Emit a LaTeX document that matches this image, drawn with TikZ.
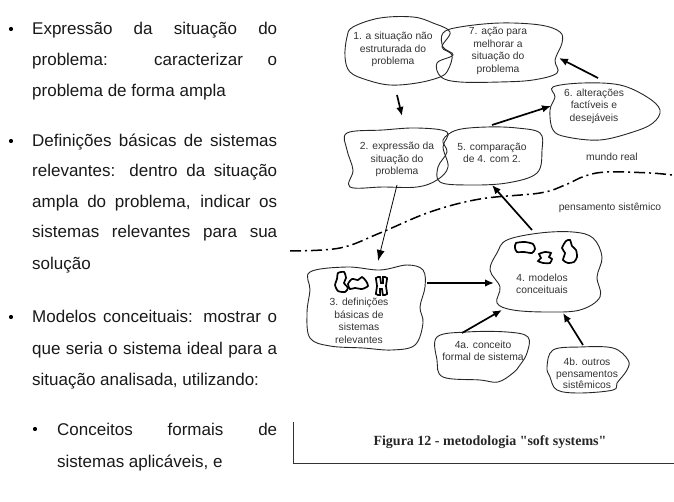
\documentclass[tikz,border=0pt]{standalone}
\usepackage{fontspec}
\setmainfont{Liberation Sans}
\newfontfamily\capfont{Liberation Serif}
\usetikzlibrary{arrows.meta}
\begin{document}
\begin{tikzpicture}[x=1pt,y=-1pt,
  body/.style={anchor=base west, inner sep=0pt, font=\fontsize{17}{20}\selectfont, text=black!90},
  bul/.style={circle, fill=black, inner sep=0pt, minimum size=4.2pt},
  cloud/.style={line width=0.9pt, black!85},
  icon/.style={line width=1.7pt, black},
  ctext/.style={align=center, inner sep=0pt, font=\fontsize{10.3}{12.5}\selectfont, text=black!80},
  arr/.style={line width=1.7pt, -{Latex[length=9pt,width=7.5pt]}},
  thinarr/.style={line width=0.8pt, -{Latex[length=11pt,width=8pt]}},
  boundary/.style={line width=1.5pt, dash pattern=on 11pt off 4pt on 2pt off 4pt},
]
\useasboundingbox (0,0) rectangle (674,502);

% ---------- left text ----------
\node[bul] (b1) at (11,29) {};
\node[body] (l1) at (32,35) {\makebox[245pt][s]{Expressão da situação do}};
\node[body] (l2) at (32,66) {\makebox[245pt][s]{problema: caracterizar o}};
\node[body] (l3) at (32,97) {problema de forma ampla};
\node[bul] (b2) at (11,141) {};
\node[body] (l4) at (32,147) {\makebox[245pt][s]{Definições básicas de sistemas}};
\node[body] (l5) at (32,177) {\makebox[245pt][s]{relevantes: dentro da situação}};
\node[body] (l6) at (32,208) {\makebox[245pt][s]{ampla do problema, indicar os}};
\node[body] (l7) at (32,238) {\makebox[245pt][s]{sistemas relevantes para sua}};
\node[body] (l8) at (32,270) {solução};
\node[bul] (b3) at (11,317) {};
\node[body] (l9) at (32,323) {\makebox[245pt][s]{Modelos conceituais: mostrar o}};
\node[body] (l10) at (32,354) {\makebox[245pt][s]{que seria o sistema ideal para a}};
\node[body] (l11) at (32,385) {situação analisada, utilizando:};
\node[bul] (b4) at (35,429) {};
\node[body] (l12) at (57,435) {\makebox[220pt][s]{Conceitos formais de}};
\node[body] (l13) at (57,467) {sistemas aplicáveis, e};

% ---------- clouds ----------
% 1
\draw[cloud] plot[smooth cycle, tension=0.6] coordinates {(353,27) (380,18) (413,17) (433,23) (450,32) (442,47) (452,55) (448,70) (440,77) (417,83) (390,85) (367,80) (350,72) (345,57) (347,37)};
% 7
\draw[cloud] plot[smooth cycle, tension=0.6] coordinates {(443,33) (460,27) (500,23) (540,25) (560,32) (562,43) (555,60) (557,73) (533,80) (500,82) (460,82) (441,77) (437,63) (453,55) (443,47)};
% 6
\draw[cloud] plot[smooth cycle, tension=0.6] coordinates {(553,87) (583,83) (620,85) (647,97) (660,110) (653,123) (633,132) (600,140) (567,137) (553,130) (550,110) (555,97)};
% 2
\draw[cloud] plot[smooth cycle, tension=0.6] coordinates {(347,133) (383,130) (417,128) (447,132) (443,147) (448,167) (437,180) (417,187) (383,187) (350,187) (353,170) (347,150)};
% 5
\draw[cloud] plot[smooth cycle, tension=0.6] coordinates {(457,130) (487,127) (517,128) (540,133) (542,150) (537,173) (507,183) (467,185) (440,182) (438,167) (447,152) (443,140)};
% 3
\draw[cloud] plot[smooth cycle, tension=0.6] coordinates {(310,272) (347,267) (380,270) (407,265) (423,270) (425,287) (420,307) (423,323) (415,345) (392,350) (363,348) (330,346) (310,338) (307,313) (310,290)};
% 4
\draw[cloud] plot[smooth cycle, tension=0.6] coordinates {(507,240) (540,233) (573,232) (593,238) (602,257) (597,277) (600,297) (580,310) (547,312) (513,310) (497,303) (500,287) (490,270) (497,253)};
% 4a
\draw[cloud] plot[smooth cycle, tension=0.6] coordinates {(437,337) (467,332) (507,332) (528,337) (527,353) (520,365) (513,373) (498,382) (480,380) (443,377) (437,360)};
% 4b
\draw[cloud] plot[smooth cycle, tension=0.6] coordinates {(553,350) (580,347) (613,348) (628,360) (627,370) (617,383) (613,390) (580,393) (557,390) (550,377) (547,367)};

% icons in cloud 3
\draw[icon] plot[smooth cycle, tension=0.4] coordinates {(338,273) (344,272) (346,278) (344,283) (348,288) (345,292) (338,291) (335,285) (337,279)};
\draw[icon] plot[smooth cycle, tension=0.4] coordinates {(348,284) (352,279) (358,280) (362,277) (366,281) (368,286) (362,289) (355,288) (350,289)};
\draw[icon] plot[smooth cycle, tension=0.3] coordinates {(376,278) (380,277) (381,283) (383,283) (383,277) (387,278) (386,286) (387,294) (383,295) (382,289) (380,289) (380,295) (376,294) (377,286)};
% icons in cloud 4
\draw[icon] plot[smooth cycle, tension=0.4] coordinates {(516,243) (525,242) (533,244) (535,249) (532,253) (524,252) (517,252) (515,248)};
\draw[icon] plot[smooth cycle, tension=0.3] coordinates {(539,254) (545,252) (551,253) (549,257) (552,259) (550,263) (543,263) (538,261) (541,258)};
\draw[icon] plot[smooth cycle, tension=0.4] coordinates {(566,241) (570,240) (572,246) (576,250) (577,257) (574,262) (568,263) (563,260) (565,253) (562,248)};

% cloud texts
\node[ctext] (c1) at (393,49.5) {1. a situação não\\estruturada do\\problema};
\node[ctext] (c7) at (498,51) {7. ação para\\melhorar a\\situação do\\problema};
\node[ctext] (c6) at (594,106) {6. alterações\\factíveis e\\desejáveis};
\node[ctext] (c2) at (397,159.5) {2. expressão da\\situação do\\problema};
\node[ctext] (c5) at (492,153) {5. comparação\\de 4. com 2.};
\node[ctext] (c3) at (359,321) {3. definições\\básicas de\\sistemas\\relevantes};
\node[ctext] (c4) at (542,284) {4. modelos\\conceituais};
\node[ctext] (c4a) at (483,351) {4a. conceito\\formal de sistema};
\node[ctext, font=\fontsize{10.3}{11.6}\selectfont] (c4b) at (587,373.5) {4b. outros\\pensamentos\\sistêmicos};
\node[ctext] (mr) at (612,157) {mundo real};
\node[ctext] (ps) at (610,208) {pensamento sistêmico};

% boundary line
\draw[boundary] plot[smooth, tension=0.6] coordinates {(290,251) (340,248) (380,233) (430,212) (480,199) (540,193) (565,185) (585,176) (607,172) (650,173) (672,175)};

% arrow end points
\coordinate (a1s) at (397,95);  \coordinate (a2e) at (402,116);
\coordinate (a5s) at (492,125); \coordinate (a6e) at (551,106);
\coordinate (a6s) at (598,78);  \coordinate (a7e) at (559,58);
\coordinate (a2s) at (397,185); \coordinate (a3e) at (378,261);
\coordinate (a3s) at (427,283); \coordinate (a4e) at (494,283);
\coordinate (a4s) at (532,230); \coordinate (a5e) at (492,185);
\coordinate (aas) at (462,333); \coordinate (a4ea) at (502,310);
\coordinate (abs) at (583,345); \coordinate (a4eb) at (563,313);

\draw[arr] (a1s) -- (a2e);
\draw[arr] (a5s) -- (a6e);
\draw[arr] (a6s) -- (a7e);
\draw[thinarr] (a2s) -- (a3e);
\draw[arr] (a3s) -- (a4e);
\draw[arr] (a4s) -- (a5e);
\draw[arr] (aas) -- (a4ea);
\draw[arr] (abs) -- (a4eb);

% caption frame
\coordinate (ft) at (293,422);
\coordinate (fc) at (293,463);
\coordinate (fr) at (674,463);
\draw[line width=1pt, black!80] (ft) -- (fc) -- (fr);
\node[inner sep=0pt, font=\capfont\bfseries\fontsize{14}{16}\selectfont, text=black!85] (cap) at (490,442) {Figura 12 - metodologia "soft systems"};
\end{tikzpicture}
\end{document}
